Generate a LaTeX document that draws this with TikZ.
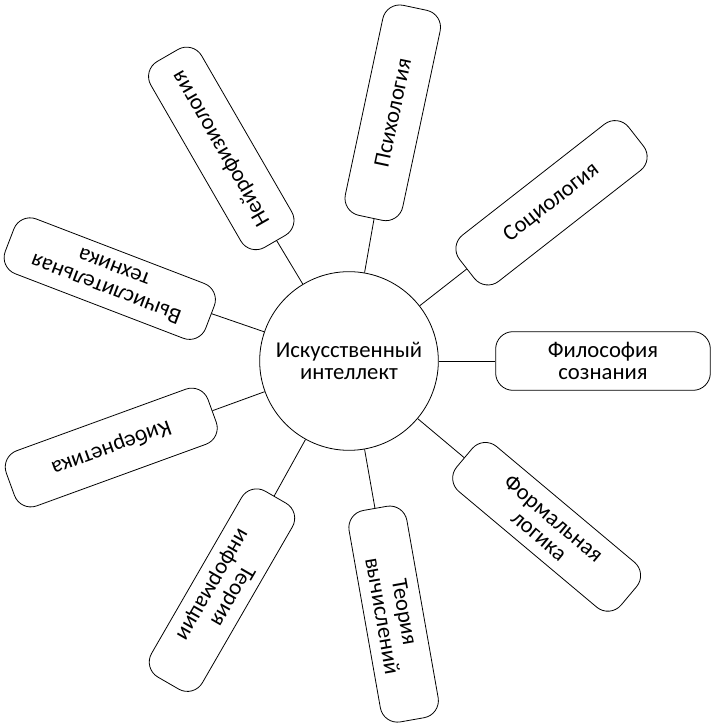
\documentclass[tikz,border=0pt]{standalone}
\usepackage{fontspec}
\setmainfont{Carlito}

\tikzset{
	field/.style={draw, rounded corners=13pt, minimum width=161pt, minimum height=44pt,
		align=center, inner sep=2pt, line width=0.6pt, font=\fontsize{17}{17}\selectfont},
	core/.style={draw, circle, minimum size=134pt, align=center, line width=0.6pt,
		font=\fontsize{17}{17}\selectfont},
	link/.style={line width=0.6pt}
}

\begin{document}
\begin{tikzpicture}[x=0.75pt,y=0.75pt]
	\useasboundingbox (-349,-366) rectangle (366,361);
	\node[core] (ai) at (0,0) {Искусственный\\интеллект};
	% fields round the centre, every 40 degrees
	\node[field, rotate=0] (phil) at (0:254) {Философия\\сознания};
	\node[field, rotate=38] (soc) at (38:257) {Социология};
	\node[field, rotate=78] (psy) at (80:252) {Психология};
	\node[field, rotate=120] (neuro) at (121:248) {Нейрофизиология};
	\node[field, rotate=159] (comp) at (161:253) {Вычислительная\\техника};
	\node[field, rotate=200] (cyb) at (200:253) {Кибернетика};
	\node[field, rotate=240] (info) at (241:262) {Теория\\информации};
	\node[field, rotate=280] (calc) at (280:257) {Теория\\вычислений};
	\node[field, rotate=320] (logic) at (320:258) {Формальная\\логика};
	\draw[link] (ai) -- (phil);
	\draw[link] (ai) -- (soc);
	\draw[link] (ai) -- (psy);
	\draw[link] (ai) -- (neuro);
	\draw[link] (ai) -- (comp);
	\draw[link] (ai) -- (cyb);
	\draw[link] (ai) -- (info);
	\draw[link] (ai) -- (calc);
	\draw[link] (ai) -- (logic);
\end{tikzpicture}
\end{document}
